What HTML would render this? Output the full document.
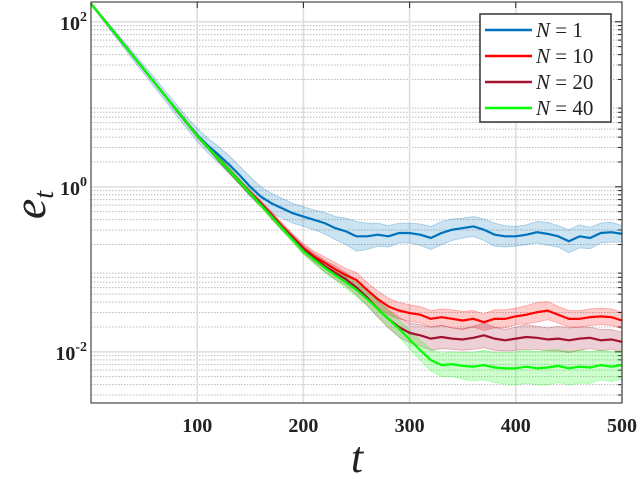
<!DOCTYPE html>
<html><head><meta charset="utf-8"><style>
body{margin:0;background:#fff}
svg{display:block}
.tk{font-family:"Liberation Serif",serif;font-weight:bold;font-size:20px;fill:#222}
</style></head><body>
<svg id="chart" width="640" height="479" viewBox="0 0 640 479"></svg>
<script>
const tValues=[0,10,20,30,40,50,60,70,80,90,100,110,120,130,140,150,160,170,180,190,200,210,220,230,240,250,260,270,280,290,300,310,320,330,340,350,360,370,380,390,400,410,420,430,440,450,460,470,480,490,500];
const logN1=[2.22,2.06,1.9,1.74,1.58,1.42,1.26,1.1,0.94,0.78,0.63,0.5,0.39,0.27,0.14,0.0,-0.12,-0.2,-0.26,-0.32,-0.36,-0.4,-0.44,-0.5,-0.54,-0.6,-0.6,-0.58,-0.6,-0.56,-0.56,-0.58,-0.62,-0.56,-0.52,-0.5,-0.48,-0.52,-0.58,-0.6,-0.6,-0.58,-0.55,-0.57,-0.6,-0.66,-0.6,-0.62,-0.56,-0.55,-0.57];
const logN10=[2.22,2.06,1.9,1.74,1.58,1.42,1.26,1.1,0.94,0.78,0.62,0.48,0.34,0.2,0.06,-0.07,-0.2,-0.34,-0.48,-0.61,-0.74,-0.84,-0.92,-1.0,-1.07,-1.13,-1.25,-1.36,-1.45,-1.5,-1.53,-1.55,-1.6,-1.58,-1.6,-1.62,-1.6,-1.64,-1.6,-1.6,-1.57,-1.55,-1.52,-1.5,-1.55,-1.6,-1.6,-1.58,-1.57,-1.58,-1.62];
const logN20=[2.22,2.06,1.9,1.74,1.58,1.42,1.26,1.1,0.94,0.78,0.62,0.48,0.34,0.2,0.06,-0.08,-0.21,-0.35,-0.49,-0.62,-0.76,-0.86,-0.96,-1.04,-1.12,-1.22,-1.34,-1.48,-1.6,-1.7,-1.77,-1.8,-1.84,-1.82,-1.84,-1.85,-1.83,-1.8,-1.84,-1.86,-1.84,-1.82,-1.83,-1.85,-1.84,-1.86,-1.84,-1.83,-1.86,-1.85,-1.88];
const logN40=[2.22,2.06,1.9,1.74,1.58,1.42,1.26,1.1,0.94,0.78,0.62,0.48,0.34,0.2,0.06,-0.08,-0.22,-0.36,-0.5,-0.64,-0.78,-0.88,-0.98,-1.07,-1.16,-1.25,-1.36,-1.48,-1.6,-1.72,-1.85,-1.98,-2.1,-2.16,-2.15,-2.17,-2.18,-2.16,-2.19,-2.2,-2.2,-2.18,-2.2,-2.19,-2.17,-2.2,-2.18,-2.19,-2.16,-2.18,-2.16];
const spreadN1=[0.01,0.02,0.03,0.04,0.05,0.05,0.06,0.06,0.07,0.07,0.08,0.09,0.1,0.11,0.11,0.12,0.12,0.12,0.12,0.12,0.12,0.12,0.13,0.14,0.16,0.18,0.16,0.14,0.13,0.12,0.12,0.13,0.14,0.14,0.13,0.12,0.12,0.13,0.14,0.13,0.12,0.12,0.13,0.14,0.13,0.14,0.14,0.13,0.12,0.12,0.1];
const spreadN10=[0.01,0.01,0.01,0.01,0.01,0.01,0.01,0.01,0.02,0.02,0.02,0.02,0.03,0.03,0.03,0.03,0.03,0.04,0.04,0.04,0.05,0.06,0.07,0.08,0.08,0.09,0.09,0.1,0.1,0.1,0.1,0.1,0.1,0.1,0.11,0.11,0.1,0.1,0.11,0.11,0.1,0.11,0.12,0.11,0.1,0.1,0.1,0.1,0.1,0.1,0.1];
const spreadN20=[0.01,0.01,0.01,0.01,0.01,0.01,0.01,0.01,0.02,0.02,0.02,0.02,0.03,0.03,0.03,0.03,0.03,0.04,0.04,0.04,0.05,0.06,0.07,0.08,0.08,0.09,0.1,0.1,0.11,0.12,0.12,0.13,0.14,0.14,0.13,0.13,0.14,0.15,0.14,0.13,0.14,0.15,0.14,0.14,0.15,0.15,0.14,0.13,0.13,0.12,0.12];
const spreadN40=[0.01,0.01,0.01,0.01,0.01,0.01,0.01,0.01,0.02,0.02,0.02,0.02,0.03,0.03,0.03,0.03,0.03,0.03,0.03,0.04,0.04,0.05,0.06,0.06,0.07,0.08,0.08,0.09,0.1,0.1,0.11,0.12,0.13,0.14,0.15,0.16,0.17,0.18,0.18,0.19,0.2,0.2,0.2,0.21,0.2,0.2,0.2,0.19,0.18,0.18,0.17];
const xTicks=[100,200,300,400,500];
const yTicks=[2,0,-2];

const NS="http://www.w3.org/2000/svg";
const svg=document.getElementById('chart');
const L=91,R=622,T=2,B=403;
const xMin=0,xMax=500,yMax=2.24,yMin=-2.62;
const xs=t=>L+(t-xMin)/(xMax-xMin)*(R-L);
const ys=v=>T+(yMax-v)/(yMax-yMin)*(B-T);
function el(tag,attrs){const e=document.createElementNS(NS,tag);for(const k in attrs)e.setAttribute(k,attrs[k]);svg.appendChild(e);return e;}

for(let d=-3;d<=2;d++){for(let m=2;m<=9;m++){const v=d+Math.log10(m);if(v<yMin||v>yMax)continue;
 const g=el('line',{x1:L,x2:R,y1:ys(v),y2:ys(v),stroke:'#bbb','stroke-width':1,'stroke-dasharray':'1.5,1.5'});
 
 
 const tk=el('line',{x1:R-4,x2:R,y1:ys(v),y2:ys(v),stroke:'#222','stroke-width':1});
 
 
}}
for(const v of yTicks){const g=el('line',{x1:L,x2:R,y1:ys(v),y2:ys(v),stroke:'#ddd','stroke-width':1.5});
 
 
 const tk=el('line',{x1:R-7,x2:R,y1:ys(v),y2:ys(v),stroke:'#222','stroke-width':1});
 
 
 const tx=el('text',{x:L-4,y:ys(v)+8,'text-anchor':'end',class:'tk'});
 
 
 tx.innerHTML='10<tspan dy="-9" font-size="14">'+v+'</tspan>';
}
for(const t of xTicks){const g=el('line',{x1:xs(t),x2:xs(t),y1:T,y2:B,stroke:'#ddd','stroke-width':1.5});
 
 
 const tk=el('line',{x1:xs(t),x2:xs(t),y1:T,y2:T+6,stroke:'#222','stroke-width':1});
 
 
 const tx=el('text',{x:xs(t),y:432,'text-anchor':'middle',class:'tk'});
 
 
 tx.textContent=t;
}
const series=[
 {name:'n1',vals:logN1,sp:spreadN1,col:'#0072BD'},
 {name:'n10',vals:logN10,sp:spreadN10,col:'#FF0000'},
 {name:'n20',vals:logN20,sp:spreadN20,col:'#A2142F'},
 {name:'n40',vals:logN40,sp:spreadN40,col:'#00FF00'}];
for(const s of series){
 let up=[],lo=[];
 tValues.forEach((t,i)=>{up.push(xs(t)+','+ys(s.vals[i]+s.sp[i]));lo.unshift(xs(t)+','+ys(s.vals[i]-s.sp[i]));});
 const b=el('polygon',{points:up.concat(lo).join(' '),fill:s.col,'fill-opacity':0.2,stroke:s.col,'stroke-opacity':0.3,'stroke-width':0.8});
 
 
}
for(const s of series){
 const p=el('polyline',{points:tValues.map((t,i)=>xs(t)+','+ys(s.vals[i])).join(' '),fill:'none',stroke:s.col,'stroke-width':2.2,'stroke-linejoin':'round'});
 
 
}
const fr=el('rect',{x:L,y:T,width:R-L,height:B-T,fill:'none',stroke:'#222','stroke-width':1});


const lg=el('rect',{x:480,y:14,width:131,height:108,fill:'#fff',stroke:'#333','stroke-width':1.5});


const labels=['1','10','20','40'];
series.forEach((s,i)=>{const y=30+i*26;
 const l=el('line',{x1:485,x2:532,y1:y,y2:y,stroke:s.col,'stroke-width':2.5});
 
 
 const tx=el('text',{x:536,y:y+7,'font-family':'Liberation Serif, serif','font-size':21,fill:'#222'});
 
 
 tx.innerHTML='<tspan font-style="italic">N</tspan> = '+labels[i];
});
const xt=el('text',{x:357,y:472,'text-anchor':'middle','font-family':'Liberation Serif, serif','font-style':'italic','font-size':44,fill:'#222'});


xt.textContent='t';
const yt=el('text',{x:0,y:0,transform:'translate(45,205) rotate(-90)','text-anchor':'middle','font-family':'Liberation Serif, serif','font-style':'italic','font-size':46,fill:'#222'});


yt.innerHTML='e<tspan font-size="28" dy="8">t</tspan>';
</script>
</body></html>
